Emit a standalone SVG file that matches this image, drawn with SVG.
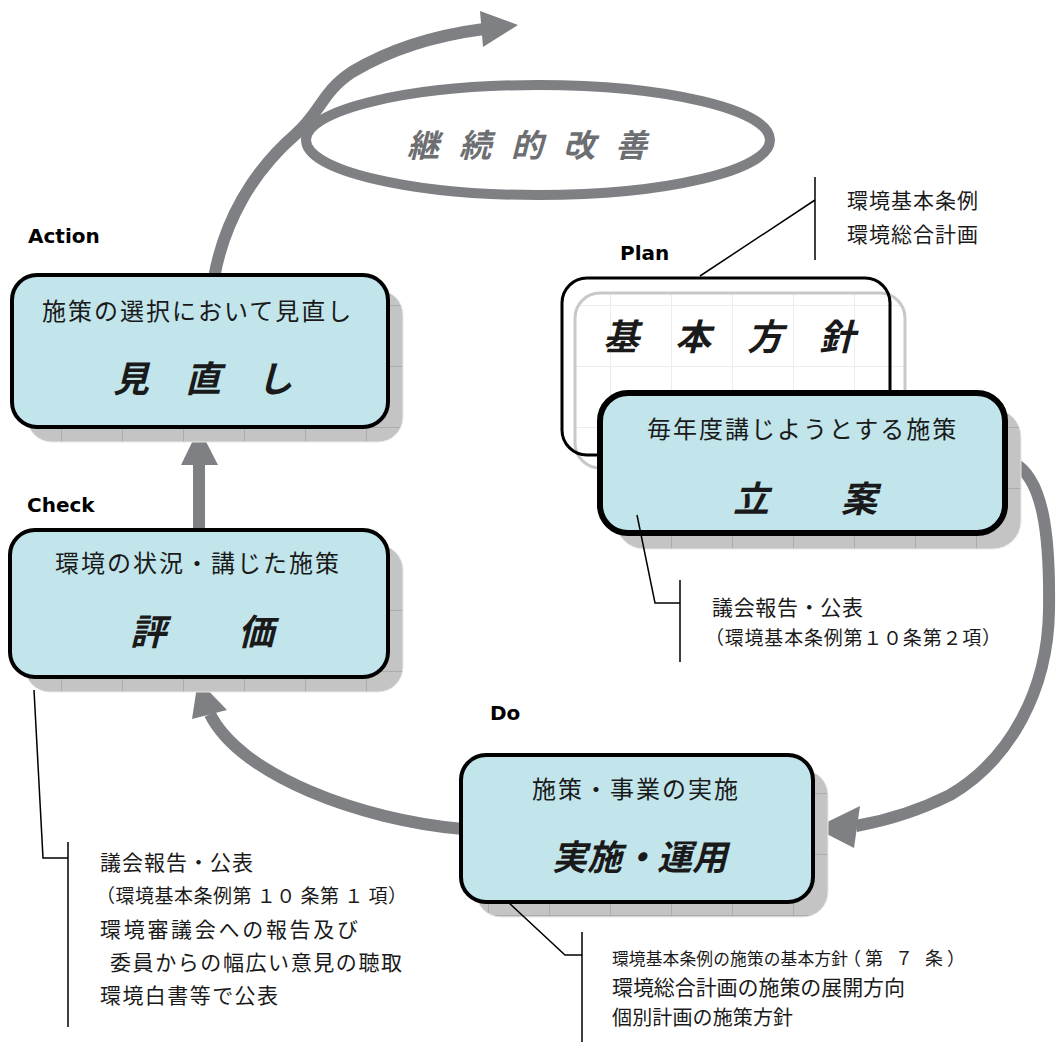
<svg xmlns="http://www.w3.org/2000/svg" width="1056" height="1042" viewBox="0 0 1056 1042">
<style>
.box{fill:#c1e5eb;stroke:#000;stroke-width:4}
.shadow{fill:url(#grid);stroke:#e8e8e8;stroke-width:1}
.arrow{fill:none;stroke:#7f8084;stroke-width:12}
.head{fill:#7f8084}
.sub{font-family:"Noto Sans CJK JP",sans-serif;font-size:24px;letter-spacing:2px;fill:#1a1a1a}
.title{font-family:"Noto Sans CJK JP",sans-serif;font-size:36px;font-weight:bold;font-style:italic;fill:#1a1a1a}
.label{font-family:"DejaVu Sans",sans-serif;font-size:20px;font-weight:bold;fill:#000}
.note{font-family:"Noto Sans CJK JP",sans-serif;font-size:21px;fill:#1a1a1a}
.call{fill:none;stroke:#000;stroke-width:1.5}
</style>
<defs>
<pattern id="grid" width="61" height="61" patternUnits="userSpaceOnUse">
<rect width="61" height="61" fill="#c4c4c4"/>
<path d="M0 0.5H61M0.5 0V61" stroke="#acacac" stroke-width="1"/>
</pattern>
<pattern id="fgrid" width="61" height="61" patternUnits="userSpaceOnUse">
<rect width="61" height="61" fill="#fff"/>
<path d="M0 0.5H61M0.5 0V61" stroke="#ededed" stroke-width="1"/>
</pattern>
</defs>

<g id="cycle">
<ellipse cx="538" cy="140" rx="232" ry="55" fill="none" stroke="#7f8084" stroke-width="10"/>
<text x="407" y="157" font-family="Noto Sans CJK JP,sans-serif" font-size="32" font-weight="bold" font-style="italic" letter-spacing="20" fill="#6d6e71">継続的改善</text>
</g>

<g id="connectors">
<path class="arrow" d="M214 278 C224 222 252 172 296 134 C322 110 322 92 352 72 C392 48 438 35 484 29"/>
<polygon class="head" points="518,25 480,11 483,47"/>
<path class="arrow" d="M199 530 V462"/>
<polygon class="head" points="199,428 181,465 218,465"/>
<path class="arrow" d="M463 829 C360 820 240 775 210 714"/>
<polygon class="head" points="198,680 192,719 227,710"/>
<path class="arrow" d="M1006 460 C1045 470 1050 540 1049 610 C1048 690 1010 760 950 795 C920 810 890 820 856 826"/>
<polygon class="head" points="815,828 860,806 854,848"/>
</g>

<g id="action">
<rect class="shadow" x="27" y="290" width="376" height="152" rx="25"/>
<rect class="box" x="12" y="275" width="376" height="152" rx="25"/>
<text class="label" x="28" y="243">Action</text>
<text class="sub" x="42" y="320">施策の選択において見直し</text>
<text class="title" x="113" y="392">見　直　し</text>
</g>

<g id="check">
<rect class="shadow" x="25" y="545" width="378" height="147" rx="25"/>
<rect class="box" x="10" y="530" width="378" height="147" rx="25"/>
<text class="label" x="27" y="512">Check</text>
<text class="sub" x="55" y="572">環境の状況・講じた施策</text>
<text class="title" x="130" y="645">評　　価</text>
</g>

<g id="plan">
<rect x="575" y="293" width="330" height="175" rx="25" fill="url(#fgrid)" stroke="#c8c8c8" stroke-width="3"/>
<rect x="562" y="278" width="328" height="177" rx="25" fill="none" stroke="#000" stroke-width="3"/>
<text class="title" x="603" y="350">基　本　方　針</text>
<text class="label" x="620" y="260">Plan</text>
<rect class="shadow" x="616" y="409" width="405" height="140" rx="28"/>
<rect class="box" x="600" y="393" width="405" height="140" rx="28" style="stroke-width:6px"/>
<text class="sub" x="647" y="438">毎年度講じようとする施策</text>
<text class="title" x="733" y="512">立　　案</text>
</g>

<g id="do">
<rect class="shadow" x="476" y="770" width="352" height="147" rx="25"/>
<rect class="box" x="461" y="755" width="352" height="147" rx="25"/>
<text class="label" x="490" y="720">Do</text>
<text class="sub" x="532" y="798">施策・事業の実施</text>
<text class="title" x="552" y="870" style="font-size:35px">実施・運用</text>
</g>

<g id="note-plan-top">
<path class="call" d="M700 276 L815 200 M815 177 V260"/>
<text class="note" x="847" y="208" textLength="131">環境基本条例</text>
<text class="note" x="847" y="242" textLength="131">環境総合計画</text>
</g>

<g id="note-plan-bottom">
<path class="call" d="M637 515 L655 603 H680 M680 580 V662"/>
<text class="note" x="712" y="615" textLength="151">議会報告・公表</text>
<text class="note" x="705" y="645" style="font-size:19px" textLength="296">（環境基本条例第１０条第２項）</text>
</g>

<g id="note-check">
<path class="call" d="M34 690 L43 858 H68 M68 842 V1027"/>
<text class="note" x="100" y="870" textLength="153">議会報告・公表</text>
<text class="note" x="96" y="903" style="font-size:19px" textLength="311">（環境基本条例第 １０ 条第 １ 項）</text>
<text class="note" x="100" y="937" textLength="258">環境審議会への報告及び</text>
<text class="note" x="110" y="970" textLength="292">委員からの幅広い意見の聴取</text>
<text class="note" x="100" y="1003" textLength="178">環境白書等で公表</text>
</g>

<g id="note-do">
<path class="call" d="M508 902 L565 955 H582 M582 932 V1042"/>
<text class="note" x="612" y="965" style="font-size:16.8px" textLength="236">環境基本条例の施策の基本方針</text>
<text class="note" x="843" y="965" style="font-size:18px;letter-spacing:4px">（第 ７ 条）</text>
<text class="note" x="612" y="995" textLength="293">環境総合計画の施策の展開方向</text>
<text class="note" x="612" y="1025" style="font-size:20px" textLength="181">個別計画の施策方針</text>
</g>
</svg>
